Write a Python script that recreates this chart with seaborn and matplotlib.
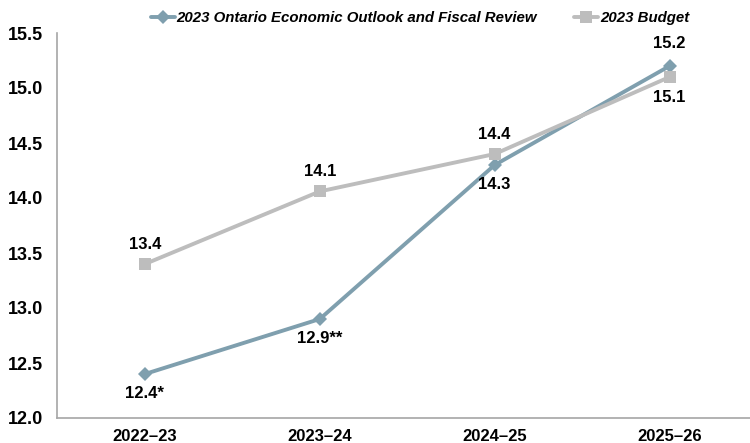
import matplotlib
matplotlib.use("Agg")
import matplotlib.pyplot as plt
import seaborn as sns
import pandas as pd
from matplotlib.lines import Line2D

categories = ["2022\u201323", "2023\u201324", "2024\u201325", "2025\u201326"]
fall_values = [12.4, 12.9, 14.3, 15.2]
fall_labels = ["12.4*", "12.9**", "14.3", "15.2"]
budget_values = [13.4, 14.06, 14.4, 15.1]
budget_labels = ["13.4", "14.1", "14.4", "15.1"]
series_names = ["2023 Ontario Economic Outlook and Fiscal Review", "2023 Budget"]
yticks = [12.0, 12.5, 13.0, 13.5, 14.0, 14.5, 15.0, 15.5]

sns.set_theme(style="white")
plt.rcParams['font.family'] = ['Liberation Sans', 'DejaVu Sans']
plt.rcParams['text.color'] = 'black'

df = pd.DataFrame({
    "cat": categories * 2,
    "x": list(range(4)) * 2,
    "val": fall_values + budget_values,
    "series": [series_names[0]] * 4 + [series_names[1]] * 4,
})

c_fall = "#7F9FAE"
c_bud = "#BDBDBD"

fig = plt.figure(figsize=(7.5, 4.43), dpi=100)
ax = fig.add_axes([57.5 / 750, 25 / 443, 692.5 / 750, 385 / 443])

sns.lineplot(data=df, x="x", y="val", hue="series", style="series",
             palette=[c_fall, c_bud], markers=["D", "s"], dashes=False,
             linewidth=2.8, markersize=8, markeredgewidth=0, ax=ax, legend=False,
             sort=False)
for line, ms in zip(ax.get_lines(), [7, 9]):
    line.set_markersize(ms)

ax.set_xlim(-0.5, 3.46)
ax.set_ylim(12.0, 15.5)
ax.set_yticks(yticks)
ax.set_yticklabels([f"{v:.1f}" for v in yticks])
ax.set_xticks(range(4))
ax.set_xticklabels(categories)
ax.set_xlabel("")
ax.set_ylabel("")
for lab in ax.get_xticklabels():
    lab.set_fontweight("bold")
    lab.set_fontsize(12)
    lab.set_color("black")
for lab in ax.get_yticklabels():
    lab.set_fontweight("bold")
    lab.set_fontsize(13)
    lab.set_color("black")
for s in ["top", "right"]:
    ax.spines[s].set_visible(False)
for s in ["left", "bottom"]:
    ax.spines[s].set_color("#A6A6A6")
    ax.spines[s].set_linewidth(1.2)
ax.tick_params(axis="y", direction="out", length=3, color="#A6A6A6", pad=7.4)
ax.tick_params(axis="x", direction="out", length=4, color="#A6A6A6", pad=4)

fall_off = [-14, -14, -14, 16]
bud_off = [14, 14, 14, -15]
for i, (v, l, o) in enumerate(zip(fall_values, fall_labels, fall_off)):
    ax.annotate(l, (i, v), xytext=(0, o), textcoords="offset points",
                ha="center", va="center", fontsize=12, fontweight="bold", color="black")
for i, (v, l, o) in enumerate(zip(budget_values, budget_labels, bud_off)):
    ax.annotate(l, (i, v), xytext=(0, o), textcoords="offset points",
                ha="center", va="center", fontsize=12, fontweight="bold", color="black")

handles = [Line2D([], [], color=c_fall, lw=2.8, marker="D", ms=7, mew=0),
           Line2D([], [], color=c_bud, lw=2.8, marker="s", ms=9, mew=0)]
leg = fig.legend(handles, series_names, loc="center", bbox_to_anchor=(420 / 750, 1 - 18 / 443),
                 ncol=2, frameon=False, handlelength=1.6, handletextpad=0.1, columnspacing=2.5,
                 prop={"weight": "bold", "style": "italic", "size": 10.8})
for t in leg.get_texts():
    t.set_color("black")

fig.savefig("out.png", dpi=100)
